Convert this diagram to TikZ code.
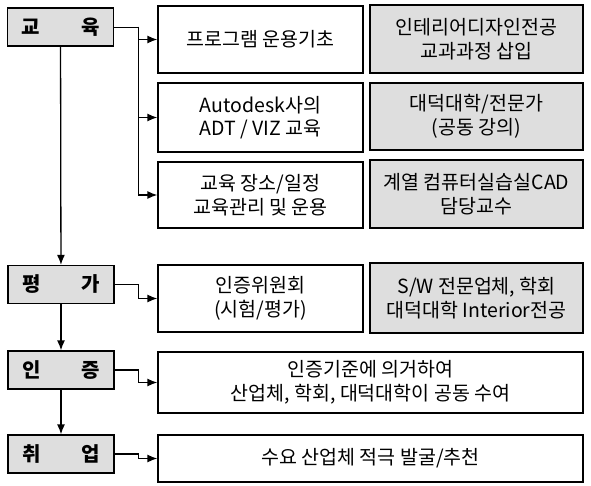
\documentclass[tikz,border=0pt]{standalone}
\usepackage{fontspec}
\setmainfont{Noto Sans CJK KR}
\usetikzlibrary{arrows.meta,positioning}

\begin{document}
\begin{tikzpicture}[x=1pt,y=-1pt]
		\tikzset{
		    stage/.style={rectangle,draw,line width=1.3pt,fill=black!13,minimum width=106pt,minimum height=38pt,text width=78pt,inner sep=0pt,font=\bfseries\fontsize{20}{22}\selectfont},
		    task/.style={rectangle,draw,line width=1.3pt,fill=white,minimum width=205pt,minimum height=67pt,align=center,inner sep=1pt,font=\fontsize{19.5}{23.5}\selectfont},
		    partner/.style={task,fill=black!13,minimum width=213pt},
		    edge/.style={-{Latex[length=10pt,width=8pt]},line width=1.3pt},
		    feed/.style={line width=0.8pt}
		}
		\useasboundingbox (0,0) rectangle (591,486);

		% stages
		\node[stage] (edu) at (60.5,27) {교\hfill 육};
		\node[stage] (eval) at (61,284.5) {평\hfill 가};
		\node[stage] (cert) at (61,370) {인\hfill 증};
		\node[stage] (job) at (61,454) {취\hfill 업};

		% education
		\node[task] (prog) at (260.5,39.5) {프로그램 운용기초};
		\node[task,minimum height=69pt] (adt) at (260.5,117.5) {Autodesk사의\\ADT / VIZ 교육};
		\node[task,minimum height=66pt] (place) at (260.5,195) {교육 장소/일정\\교육관리 및 운용};
		\node[partner,minimum height=68pt] (course) at (476.5,39) {인테리어디자인전공\\교과과정 삽입};
		\node[partner] (lecture) at (476.5,116.5) {대덕대학/전문가\\(공동 강의)};
		\node[partner,minimum height=68pt] (lab) at (476.5,194) {계열 컴퓨터실습실CAD\\담당교수};

		% evaluation
		\node[task] (board) at (260.5,298.5) {인증위원회\\(시험/평가)};
		\node[partner,minimum height=70pt] (judges) at (476.5,298) {S/W 전문업체, 학회\\대덕대학 Interior전공};

		% certificate, job
		\node[task,minimum width=425pt,minimum height=61pt] (award) at (370.5,382.5) {인증기준에 의거하여\\산업체, 학회, 대덕대학이 공동 수여};
		\node[task,minimum width=425pt,minimum height=47pt] (place job) at (370.5,458.5) {수요 산업체 적극 발굴/추천};

		%edges
		\draw[feed] (edu.east) -- ++(24,0) coordinate (split);
		\draw[edge] (split) |- (prog.west);
		\draw[edge] (split) |- (adt.west);
		\draw[edge] (split) |- (place.west);

		\draw[edge] (edu) -- (eval);
		\draw[edge] (eval) -- (cert);
		\draw[edge] (cert) -- (job);

		\draw[edge] (eval.east) -- ++(24,0) |- (board.west);
		\draw[edge] (cert.east) -- ++(24,0) |- (award.west);
		\draw[edge] (job.east) -- ++(24,0) |- (place job.west);

	\end{tikzpicture}
\end{document}
